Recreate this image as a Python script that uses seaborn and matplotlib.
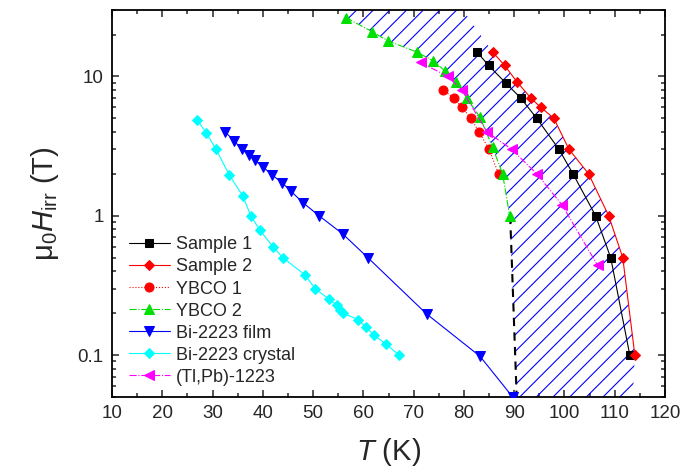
import numpy as np
import matplotlib
matplotlib.use('Agg')
import matplotlib.pyplot as plt
import seaborn as sns
from matplotlib.ticker import MultipleLocator, LogLocator, NullFormatter

s1_T = [82.6, 84.9, 88.3, 91.3, 94.5, 98.9, 101.7, 106.2, 109.2, 113.0]
s1_H = [15, 12, 9, 7, 5, 3, 2, 1, 0.5, 0.1]

s2_T = [85.7, 88.1, 90.5, 93.3, 95.3, 97.9, 100.9, 104.8, 108.8, 111.6, 114.0]
s2_H = [15, 12, 9.2, 7, 6, 5, 3, 2, 1, 0.5, 0.1]

y1_T = [75.8, 78.0, 79.6, 81.4, 83.0, 85.0, 86.9]
y1_H = [8, 7, 6, 5, 4, 3, 2]

y2_T = [56.5, 61.7, 64.9, 70.6, 73.8, 76.2, 78.4, 80.6, 83.2, 85.7, 87.7, 89.1]
y2_H = [26.5, 21, 18, 15, 13, 11, 9.2, 7, 5.1, 3.1, 2, 1]

film_T = [32.5, 34.3, 35.8, 37.2, 38.4, 40.0, 41.8, 43.8, 45.6, 48.0, 51.2, 55.9, 60.9, 72.6, 83.2, 89.7]
film_H = [4, 3.45, 3, 2.75, 2.5, 2.25, 1.97, 1.73, 1.5, 1.24, 1.0, 0.74, 0.5, 0.197, 0.098, 0.05]

cry_T = [26.9, 28.7, 30.7, 33.3, 36.0, 37.6, 39.4, 42.0, 44.0, 48.4, 50.4, 53.1,
         54.7, 55.3, 55.9, 58.9, 60.5, 62.1, 64.5, 67.1]
cry_H = [4.9, 3.96, 3.0, 1.97, 1.39, 1.0, 0.79, 0.6, 0.5, 0.376, 0.3, 0.253,
         0.229, 0.211, 0.2, 0.18, 0.159, 0.139, 0.12, 0.1]

tl_T = [71.4, 76.8, 79.6, 84.6, 89.5, 94.5, 99.5, 106.6]
tl_H = [12.6, 10, 8, 4, 3, 2, 1.2, 0.44]

# gestrichelte Linie bei Tc und Grenzen des schraffierten Bereichs
dash_T = [89.2, 90.5]
dash_H = [1.0, 0.05]
hatch_top_T = [55.9, 79.8]   # Schnittpunkte mit dem oberen Rand
hatch_bottom_right_T = 113.6

T_min, T_max = 10, 120
H_min, H_max = 0.05, 30

sns.set_style('ticks')
plt.rcParams['font.family'] = ['Liberation Sans', 'DejaVu Sans']
plt.rcParams['mathtext.fontset'] = 'custom'
plt.rcParams['mathtext.rm'] = 'Liberation Sans'
plt.rcParams['mathtext.it'] = 'Liberation Sans:italic'
plt.rcParams['hatch.linewidth'] = 0.8

fig = plt.figure(figsize=(6.84, 4.71), dpi=100)
ax = fig.add_axes([112/684, 1 - 397/471, 553/684, 387/471])

# schraffierter Bereich
poly_T = np.concatenate([[hatch_top_T[0]], y2_T, dash_T[1:], [hatch_bottom_right_T],
                         s2_T[::-1], [hatch_top_T[1]]])
poly_H = np.concatenate([[H_max], y2_H, dash_H[1:], [H_min], s2_H[::-1], [H_max]])
ax.fill(poly_T, poly_H, facecolor='none', edgecolor='blue', hatch='//', linewidth=0, zorder=1)

ax.plot(dash_T, dash_H, color='black', linestyle=(0, (4, 3)), linewidth=1.5, zorder=2)

series = [
    (s1_T, s1_H, 'Sample 1', 'black', 's', '-', 6),
    (s2_T, s2_H, 'Sample 2', 'red', 'D', '-', 5.5),
    (y1_T, y1_H, 'YBCO 1', 'red', 'o', ':', 6.5),
    (y2_T, y2_H, 'YBCO 2', '#00e000', '^', '-.', 7),
    (film_T, film_H, 'Bi-2223 film', '#0000ff', 'v', '-', 7),
    (cry_T, cry_H, 'Bi-2223 crystal', '#00ffff', 'D', '-', 5.5),
    (tl_T, tl_H, '(Tl,Pb)-1223', '#ff00ff', '<', '-.', 7),
]
for T, H, lab, col, mk, ls, ms in series:
    sns.lineplot(x=T, y=H, ax=ax, color=col, marker=mk, markersize=ms, linestyle=ls,
                 linewidth=0.8, markeredgecolor=col, label=lab, sort=False,
                 estimator=None, zorder=3)

ax.set_yscale('log')
ax.set_xlim(T_min, T_max)
ax.set_ylim(H_min, H_max)

ax.xaxis.set_major_locator(MultipleLocator(10))
ax.xaxis.set_minor_locator(MultipleLocator(5))
ax.set_yticks([0.1, 1, 10])
ax.set_yticklabels(['0.1', '1', '10'])
ax.yaxis.set_minor_locator(LogLocator(base=10, subs=np.arange(2, 10)))
ax.yaxis.set_minor_formatter(NullFormatter())

ax.tick_params(which='both', direction='in', top=True, right=True, width=1.1, labelsize=13.5)
ax.tick_params(which='major', length=5, pad=6)
ax.tick_params(which='minor', length=3)
for sp in ax.spines.values():
    sp.set_linewidth(1.3)
    sp.set_color('black')

ax.set_xlabel('$T$ (K)', fontsize=21, labelpad=10)
ax.set_ylabel('μ$_0$$H_\\mathrm{irr}$ (T)', fontsize=21, labelpad=12)

ax.legend(loc='upper left', bbox_to_anchor=(0.03, 0.415), frameon=False, fontsize=13,
          handlelength=2.3, handletextpad=0.3, labelspacing=0.28, borderpad=0,
          borderaxespad=0)

fig.savefig('out.png', dpi=100)
